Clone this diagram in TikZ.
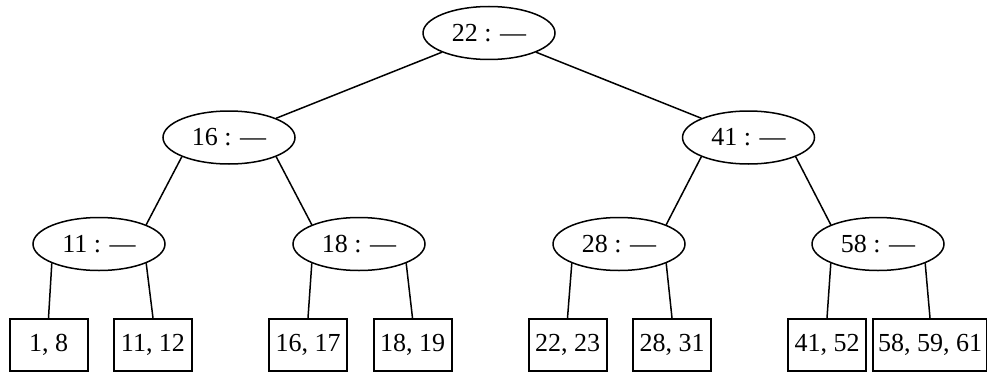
\documentclass[tikz,border=0pt]{standalone}
\usepackage{fontspec}
\setmainfont{Liberation Serif}
\usetikzlibrary{shapes.geometric, positioning}

\begin{document}
\begin{tikzpicture}[
    x=1pt, y=1pt,
    base/.style={draw, align=center, font=\fontsize{26}{30}\selectfont, inner sep=0pt},
    inner/.style={base, ellipse, line width=1.5pt, minimum width=132pt, minimum height=53pt},
    leaf/.style={base, rectangle, line width=2pt, inner sep=5pt, minimum width=78pt, minimum height=52pt},
    link/.style={line width=1.5pt}
]
    \useasboundingbox (0,0) rectangle (987,373);

    % Nodes
    \node (r) [inner] at (489,340) {22 : ---};
    \node (a) [inner] at (229,235.5) {16 : ---};
    \node (b) [inner] at (748.5,235.5) {41 : ---};
    \node (aa) [inner] at (99,129) {11 : ---};
    \node (ab) [inner] at (359,129) {18 : ---};
    \node (ba) [inner] at (619,129) {28 : ---};
    \node (bb) [inner] at (878,129) {58 : ---};

    \node (l1) [leaf] at (48.5,28) {1, 8};
    \node (l2) [leaf] at (153,28) {11, 12};
    \node (l3) [leaf] at (308,28) {16, 17};
    \node (l4) [leaf] at (412.5,28) {18, 19};
    \node (l5) [leaf] at (567.5,28) {22, 23};
    \node (l6) [leaf] at (672,28) {28, 31};
    \node (l7) [leaf] at (827,28) {41, 52};
    \node (l8) [leaf] at (930,28) {58, 59, 61};

    % Paths
    \draw [link] (r.south west) -- (a.north east);
    \draw [link] (r.south east) -- (b.north west);
    \draw [link] (a.south west) -- (aa.north east);
    \draw [link] (a.south east) -- (ab.north west);
    \draw [link] (b.south west) -- (ba.north east);
    \draw [link] (b.south east) -- (bb.north west);
    \draw [link] (aa.south west) -- (l1.north);
    \draw [link] (aa.south east) -- (l2.north);
    \draw [link] (ab.south west) -- (l3.north);
    \draw [link] (ab.south east) -- (l4.north);
    \draw [link] (ba.south west) -- (l5.north);
    \draw [link] (ba.south east) -- (l6.north);
    \draw [link] (bb.south west) -- (l7.north);
    \draw [link] (bb.south east) -- (l8.north);
\end{tikzpicture}
\end{document}
